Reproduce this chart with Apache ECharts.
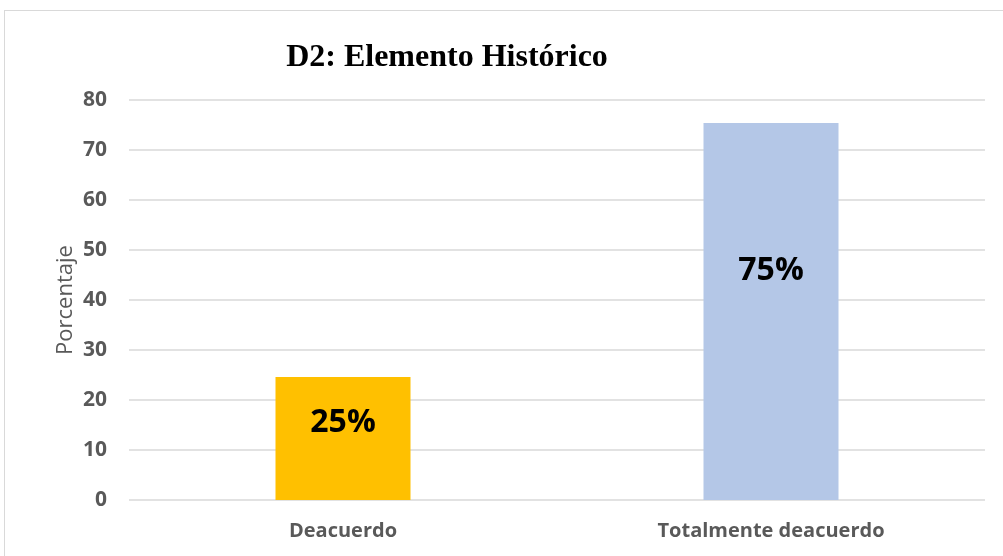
<!DOCTYPE html>
<html>
<head>
    <meta charset="utf-8" />
    <title>D2: Elemento Histórico</title>
    <script src="https://cdn.jsdelivr.net/npm/echarts@6/dist/echarts.min.js"></script>
    <style>
        html, body { margin: 0; padding: 0; background: #fff; }
        #frame { position: absolute; left: 4px; top: 10px; width: 1010px; height: 560px; border: 1px solid #d9d9d9; box-sizing: border-box; }
        #content { position: absolute; left: 0; top: 0; width: 1003px; height: 556px; }
    </style>
</head>
<body>
    <div id="frame"></div>
    <div id="content"></div>
    <script type="text/javascript">
        var categories = ["Deacuerdo", "Totalmente deacuerdo"];
        var values = [24.6, 75.4];
        var labels = ["25%", "75%"];
        var colors = ["#ffc000", "#b4c7e7"];
        var labelOffsets = [[0, -16], [0, -41]];
        var yTicks = { min: 0, max: 80, interval: 10 };

        var data = [];
        for (var i = 0; i < values.length; i++) {
            data.push({
                value: values[i],
                itemStyle: { color: colors[i] },
                label: { formatter: labels[i], offset: labelOffsets[i] }
            });
        }

        var myChart = echarts.init(document.getElementById("content"));
        myChart.setOption({
            animation: false,
            title: {
                text: "D2: Elemento Histórico",
                left: 442,
                top: 37,
                textAlign: "center",
                textStyle: { fontFamily: "Liberation Serif", fontSize: 32, fontWeight: "bold", color: "#000" }
            },
            grid: { left: 129, right: 18, top: 100, bottom: 56 },
            xAxis: {
                type: "category",
                data: categories,
                axisLine: { show: false },
                axisTick: { show: false },
                axisLabel: { margin: 21, color: "#595959", fontFamily: "Open Sans", fontSize: 20, fontWeight: "bold" }
            },
            yAxis: {
                type: "value",
                min: yTicks.min,
                max: yTicks.max,
                interval: yTicks.interval,
                name: "Porcentaje",
                nameLocation: "middle",
                nameGap: 52,
                nameMoveOverlap: false,
                nameTextStyle: { color: "#595959", fontFamily: "Open Sans", fontSize: 22 },
                axisLine: { show: false },
                axisTick: { show: false },
                axisLabel: { margin: 22, color: "#595959", fontFamily: "Open Sans", fontSize: 21, fontWeight: "bold" },
                splitLine: { lineStyle: { color: "#d9d9d9", width: 1.5 } }
            },
            series: [{
                type: "bar",
                data: data,
                barWidth: 135,
                label: {
                    show: true,
                    position: "inside",
                    color: "#000",
                    fontFamily: "Open Sans",
                    fontSize: 32,
                    fontWeight: "bold"
                }
            }]
        });
    </script>
</body>
</html>
